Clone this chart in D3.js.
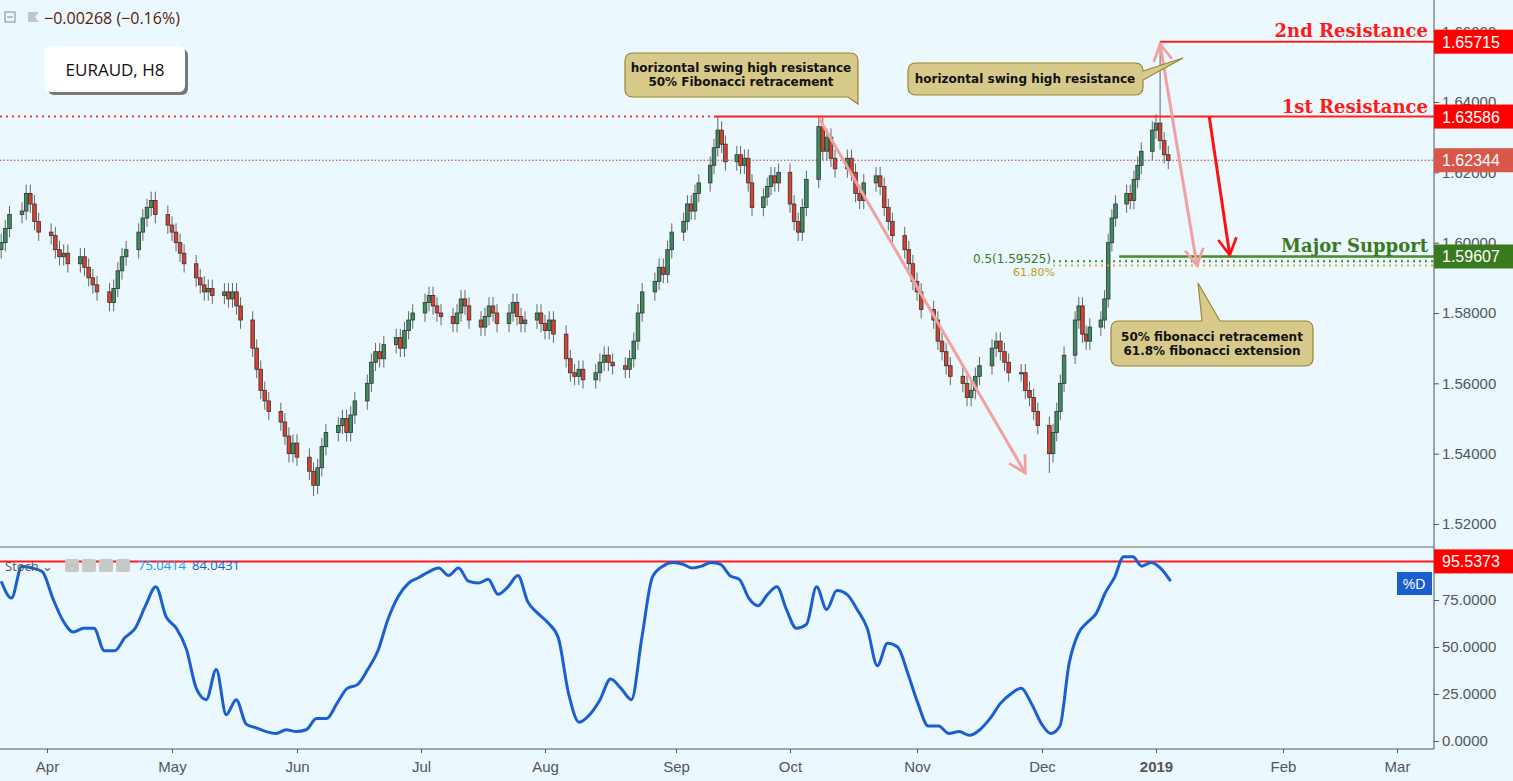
<!DOCTYPE html>
<html><head><meta charset="utf-8">
<script src="https://cdn.jsdelivr.net/npm/d3@7"></script>
<style>body{margin:0;background:#ebf8fe;overflow:hidden}svg{display:block}</style>
</head><body><svg id="c" width="1513" height="781"></svg>
<script>
// ---- DATA ----
const startDate = "2018-03-21";
// weekly blocks of daily closes (Mon..Fri), first block starts Wed Mar 21
const closes = [
 1.600,1.604,1.608,
 1.609,1.614,1.611,1.606,1.603,
 1.602,1.598,1.596,1.597,1.594,
 1.596,1.593,1.590,1.588,1.586,
 1.583,1.587,1.592,1.596,1.598,
 1.603,1.607,1.610,1.612,1.608,
 1.605,1.603,1.600,1.597,1.594,
 1.590,1.588,1.586,1.587,1.585,
 1.586,1.584,1.586,1.582,1.578,
 1.570,1.564,1.558,1.555,1.552,
 1.549,1.545,1.540,1.543,1.539,
 1.535,1.531,1.536,1.542,1.546,
 1.548,1.550,1.546,1.551,1.555,
 1.560,1.566,1.569,1.567,1.571,
 1.573,1.570,1.575,1.578,1.580,
 1.583,1.585,1.582,1.580,1.579,
 1.577,1.580,1.584,1.582,1.578,
 1.576,1.579,1.582,1.580,1.577,
 1.580,1.583,1.579,1.577,1.578,
 1.580,1.577,1.575,1.578,1.574,
 1.567,1.563,1.562,1.564,1.561,
 1.563,1.566,1.568,1.566,1.565,
 1.564,1.567,1.572,1.580,1.586,
 1.589,1.593,1.591,1.598,1.603,
 1.606,1.611,1.609,1.614,1.617,
 1.622,1.627,1.632,1.628,1.623,
 1.625,1.622,1.624,1.617,1.610,
 1.613,1.616,1.619,1.617,1.620,
 1.611,1.606,1.603,1.610,1.618,
 1.633,1.626,1.630,1.624,1.621,
 1.624,1.620,1.614,1.612,1.617,
 1.619,1.616,1.610,1.606,1.602,
 1.598,1.594,1.589,1.586,1.581,
 1.578,1.572,1.569,1.565,1.562,
 1.560,1.556,1.558,1.562,1.565,
 1.570,1.572,1.569,1.566,1.563,
 1.563,1.558,1.556,1.552,1.548,
 1.540,1.546,1.552,1.560,1.568,
 1.578,1.582,1.574,1.572,1.576,
 1.578,1.584,1.600,1.607,1.611,
 1.614,1.612,1.618,1.622,1.626,
 1.632,1.634,1.629,1.625,1.6234
];
const extremes = [{date:"2018-06-05",low:1.528},{date:"2018-12-03",low:1.5345},{date:"2019-01-02",high:1.6572},{date:"2018-09-12",high:1.6359},{date:"2018-10-08",high:1.6359}];
const stochStepDays = 2.475;
const stoch = [85,76,93,92,90,76,64,58,60,60,48,48,55,60,72,82,66,60,49,28,22,38,14,22,9,7,5,4,6,5,6,12,12,20,28,30,38,48,65,77,84,87,90,92,88,92,85,84,86,78,82,88,74,68,63,55,25,10,14,22,33,28,22,55,87,93,95,94,92,93,95,94,88,86,76,72,78,82,70,60,62,82,70,80,78,70,60,40,52,50,36,20,8,8,4,5,3,6,12,20,25,28,20,9,4,8,41,57,63,68,79,87,98,98,93,95,92,85];
const priceTicks = [1.52,1.54,1.56,1.58,1.60,1.62,1.64,1.66];
const stochTicks = [0,25,50,75];
const monthTicks = [["2018-04-01","Apr"],["2018-05-01","May"],["2018-06-01","Jun"],["2018-07-01","Jul"],["2018-08-01","Aug"],["2018-09-01","Sep"],["2018-10-01","Oct"],["2018-11-01","Nov"],["2018-12-01","Dec"],["2019-01-01","2019"],["2019-02-01","Feb"],["2019-03-01","Mar"]];
const levels = {res2:1.65715, res1:1.63586, last:1.62344, support:1.59607, fib50:1.59525, fib618:1.5935, stochLvl:95.5373};

// ---- SCALES ----
const P = d3.timeParse("%Y-%m-%d");
const anchorPx = [47,172,297,421,545,676,790,917,1042,1156,1283,1397];
const x = d3.scaleTime().domain(monthTicks.map(d=>P(d[0]))).range(anchorPx);
const xEnd = 1434;
const y = d3.scaleLinear().domain([1.52,1.64]).range([524,102]);
const ys = d3.scaleLinear().domain([0,75]).range([741,600]);
const svg = d3.select("#c");

const candles=[]; let d=P(startDate);
closes.forEach((c,i)=>{ while(d.getDay()===0||d.getDay()===6) d=d3.timeDay.offset(d,1);
  const o = i? closes[i-1] : c-0.002;
  candles.push({date:new Date(d),o,c,h:Math.max(o,c)+0.0025,l:Math.min(o,c)-0.0025}); d=d3.timeDay.offset(d,1);});
extremes.forEach(e=>{const t=+P(e.date);const k=candles.find(q=>+q.date===t);if(k){if(e.high)k.h=e.high;if(e.low)k.l=e.low;}});

const g = svg.append("g");
g.append("line").attr("x1",0).attr("x2",xEnd).attr("y1",547).attr("y2",547).attr("stroke","#666");
g.append("line").attr("x1",xEnd).attr("x2",xEnd).attr("y1",0).attr("y2",749).attr("stroke","#555");
g.append("line").attr("x1",0).attr("x2",xEnd).attr("y1",749).attr("y2",749).attr("stroke","#555");
const pa = svg.append("g").attr("transform",`translate(${xEnd},0)`).call(d3.axisRight(y).tickValues(priceTicks).tickFormat(d3.format(".5f")).tickSize(5));
const sa = svg.append("g").attr("transform",`translate(${xEnd},0)`).call(d3.axisRight(ys).tickValues(stochTicks).tickFormat(d3.format(".4f")).tickSize(5));
const xa = svg.append("g").attr("transform",`translate(0,749)`).call(d3.axisBottom(x).tickValues(monthTicks.map(d=>P(d[0]))).tickFormat((t,i)=>monthTicks[i][1]).tickSize(4));
[pa,sa,xa].forEach(a=>{a.select(".domain").remove();a.selectAll("line").attr("stroke","#555");a.selectAll("text").attr("fill","#555").style("font","15px 'Liberation Sans',Arial,sans-serif");});
xa.selectAll("text").attr("dy","1.05em").filter((t,i)=>monthTicks[i][1]==="2019").style("font-weight","bold");

svg.append("line").attr("x1",0).attr("x2",xEnd).attr("y1",y(levels.last)).attr("y2",y(levels.last)).attr("stroke","#a04040").attr("stroke-dasharray","1.5,2");

const cg=svg.append("g");
candles.forEach(k=>{const cx=x(k.date);const up=k.c>=k.o;
  cg.append("line").attr("x1",cx).attr("x2",cx).attr("y1",y(k.h)).attr("y2",y(k.l)).attr("stroke","#666");
  cg.append("rect").attr("x",cx-1.8).attr("width",3.6).attr("y",y(Math.max(k.o,k.c))).attr("height",Math.max(1,Math.abs(y(k.o)-y(k.c))))
   .attr("fill",up?"#3d8c5e":"#d9402e").attr("stroke","#333").attr("stroke-width",0.8);});

const xr1 = x(P("2018-09-11"));
svg.append("line").attr("x1",0).attr("x2",xr1).attr("y1",y(levels.res1)).attr("y2",y(levels.res1)).attr("stroke","#ff3030").attr("stroke-width",2).attr("stroke-dasharray","2,4");
svg.append("line").attr("x1",xr1).attr("x2",xEnd).attr("y1",y(levels.res1)).attr("y2",y(levels.res1)).attr("stroke","#ff2020").attr("stroke-width",2);
svg.append("line").attr("x1",x(P("2019-01-02"))).attr("x2",xEnd).attr("y1",y(levels.res2)).attr("y2",y(levels.res2)).attr("stroke","#ff2020").attr("stroke-width",2);
svg.append("line").attr("x1",x(P("2018-12-22"))).attr("x2",xEnd).attr("y1",y(levels.support)).attr("y2",y(levels.support)).attr("stroke","#4a8a2a").attr("stroke-width",2.5);
svg.append("line").attr("x1",x(P("2018-12-04"))).attr("x2",xEnd).attr("y1",y(levels.fib50)+2).attr("y2",y(levels.fib50)+2).attr("stroke","#3a8a3a").attr("stroke-width",2).attr("stroke-dasharray","2,4");
svg.append("line").attr("x1",x(P("2018-12-04"))).attr("x2",xEnd).attr("y1",y(levels.fib618)).attr("y2",y(levels.fib618)).attr("stroke","#d4b030").attr("stroke-width",2).attr("stroke-dasharray","2,4");
svg.append("text").attr("x",x(P("2018-12-04"))-2).attr("y",y(levels.fib50)+4).attr("text-anchor","end").attr("fill","#3a7a1a").style("font","12px 'DejaVu Sans',sans-serif").text("0.5(1.59525)");
svg.append("text").attr("x",x(P("2018-12-04"))+2).attr("y",y(levels.fib618)+10).attr("text-anchor","end").attr("fill","#c09a10").style("font","11px 'DejaVu Sans',sans-serif").text("61.80%");

const lbl=(t,v,c,dy)=>svg.append("text").attr("x",1428).attr("y",y(v)+dy).attr("text-anchor","end").attr("fill",c).style("font","bold 18px 'DejaVu Serif',serif").text(t);
lbl("2nd Resistance",levels.res2,"#ff1a1a",-5);
lbl("1st Resistance",levels.res1,"#ff1a1a",-4);
lbl("Major Support",levels.support,"#3a7a1e",-4);

const defs=svg.append("defs");
[["pk","#f2a0a0"],["rd","#ff1010"]].forEach(([id,c])=>defs.append("marker").attr("id",id).attr("viewBox","0 0 12 12").attr("refX",10).attr("refY",6).attr("orient","auto-start-reverse").attr("markerUnits","userSpaceOnUse").attr("markerWidth",22).attr("markerHeight",22).append("path").attr("d","M1,1 L10,6 L1,11").attr("fill","none").attr("stroke",c).attr("stroke-width",1.5));
const arrow=(d1,p1,d2,p2,c,m,both)=>{const l=svg.append("line").attr("x1",x(P(d1))).attr("y1",y(p1)).attr("x2",x(P(d2))).attr("y2",y(p2)).attr("stroke",c).attr("stroke-width",3).attr("marker-end",`url(#${m})`);if(both)l.attr("marker-start",`url(#${m})`);};
arrow("2018-10-08",1.6355,"2018-11-27",1.5345,"#f2a0a0","pk");
arrow("2019-01-02",1.6565,"2019-01-11",1.5935,"#f2a0a0","pk",true);
arrow("2019-01-14",1.6358,"2019-01-19",1.5965,"#ff1010","rd");

svg.append("line").attr("x1",0).attr("x2",xEnd).attr("y1",ys(levels.stochLvl)).attr("y2",ys(levels.stochLvl)).attr("stroke","#ff1a1a").attr("stroke-width",2);
const s0=P(startDate);
svg.append("path").datum(stoch).attr("fill","none").attr("stroke","#1a5fd0").attr("stroke-width",3).attr("stroke-linejoin","round")
 .attr("d",d3.line().curve(d3.curveMonotoneX).x((v,i)=>x(new Date(+s0+i*stochStepDays*864e5))).y(v=>ys(v)));

const tag=(yy,c,t)=>{svg.append("rect").attr("x",xEnd).attr("y",yy-12).attr("width",79).attr("height",24).attr("fill",c);svg.append("text").attr("x",xEnd+8).attr("y",yy+6).attr("fill","#fff").style("font","16px 'Liberation Sans',Arial,sans-serif").text(t);};
tag(y(levels.res2),"#ff0000","1.65715");
tag(y(levels.res1),"#ff0000","1.63586");
tag(y(levels.last),"#d9564a","1.62344");
tag(y(levels.support),"#3a7a1e","1.59607");
tag(ys(levels.stochLvl),"#ff0000","95.5373");
svg.append("rect").attr("x",1397).attr("y",572).attr("width",35).attr("height",23).attr("fill","#1a5fd0");
svg.append("text").attr("x",1414).attr("y",589).attr("text-anchor","middle").attr("fill","#fff").style("font","14px 'Liberation Sans',sans-serif").text("%D");

const callout=(pts,lines,cx,cy)=>{svg.append("path").attr("d",pts).attr("fill","#d6c98a").attr("stroke","#9a8530").attr("stroke-width",1.2);
 lines.forEach((t,i)=>svg.append("text").attr("x",cx).attr("y",cy+i*14).attr("text-anchor","middle").attr("fill","#111").style("font","bold 12px 'DejaVu Sans',sans-serif").text(t));};
callout("M633,53 H850 Q858,53 858,61 V104 L848,97 H633 Q625,97 625,89 V61 Q625,53 633,53 Z",["horizontal swing high resistance","50% Fibonacci retracement"],741,72);
callout("M916,63 H1135 Q1143,63 1143,71 L1183,58 L1143,80 V87 Q1143,95 1135,95 H916 Q908,95 908,87 V71 Q908,63 916,63 Z",["horizontal swing high resistance"],1025,83);
callout("M1119,321 H1202 L1198,283 L1220,321 H1305 Q1313,321 1313,329 V358 Q1313,366 1305,366 H1119 Q1111,366 1111,358 V329 Q1111,321 1119,321 Z",["50% fibonacci retracement","61.8% fibonacci extension"],1212,341);

svg.append("rect").attr("x",5).attr("y",12).attr("width",10).attr("height",10).attr("fill","none").attr("stroke","#888");
svg.append("line").attr("x1",7).attr("x2",13).attr("y1",17).attr("y2",17).attr("stroke","#888");
svg.append("path").attr("d","M28,12 H39 L35,17 L39,22 H28 Z").attr("fill","#c4c4cc");
svg.append("text").attr("x",44).attr("y",24).attr("fill","#5a1a0a").style("font","16px 'Open Sans',sans-serif").text("\u22120.00268 (\u22120.16%)");
svg.append("rect").attr("x",48).attr("y",49).attr("width",140).attr("height",46).attr("rx",6).attr("fill","#444").attr("opacity",0.7);
svg.append("rect").attr("x",45).attr("y",46).attr("width",140).attr("height",46).attr("rx",6).attr("fill","#fff");
svg.append("text").attr("x",115).attr("y",76).attr("text-anchor","middle").attr("fill","#111").style("font","17px 'Open Sans',sans-serif").text("EURAUD, H8");
svg.append("text").attr("x",5).attr("y",571).attr("fill","#555").style("font","13px 'Open Sans',sans-serif").text("Stoch \u2304");
[65,82,99,116].forEach(xx=>svg.append("rect").attr("x",xx).attr("y",559).attr("width",14).attr("height",13).attr("rx",2).attr("fill","#c8c8c8"));
svg.append("text").attr("x",138).attr("y",570).attr("fill","#2196f3").style("font","13px 'Open Sans',sans-serif").text("75.0414");
svg.append("text").attr("x",192).attr("y",570).attr("fill","#1a5fd0").style("font","13px 'Open Sans',sans-serif").text("84.0431");
</script></body></html>
